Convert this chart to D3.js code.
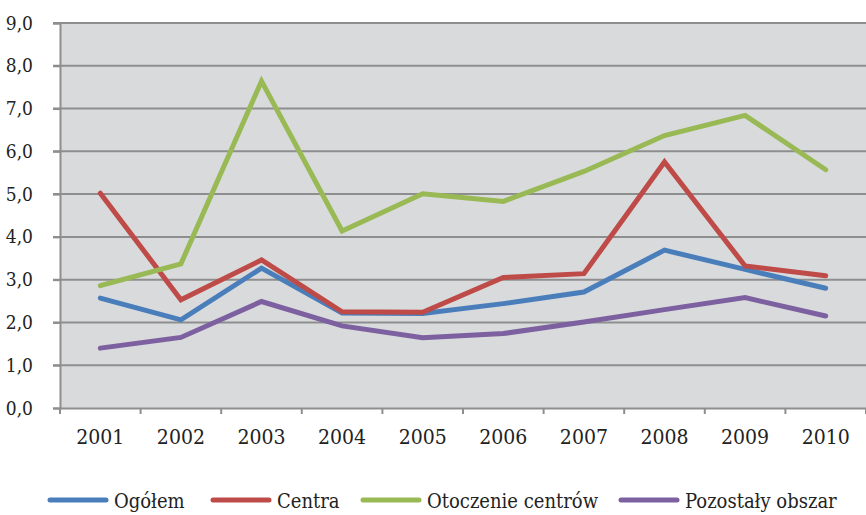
<!DOCTYPE html>
<html><head><meta charset="utf-8">
<script src="https://cdnjs.cloudflare.com/ajax/libs/d3/7.8.5/d3.min.js"></script>
<style>body{margin:0;background:#fff}svg{display:block}</style>
</head><body><svg id="c" width="866" height="515"></svg>
<script>
const years = ["2001","2002","2003","2004","2005","2006","2007","2008","2009","2010"];
const yTicks = [0,1,2,3,4,5,6,7,8,9];
const seriesNames = ["Ogółem","Centra","Otoczenie centrów","Pozostały obszar"];
const seriesColors = ["#4a7ebb","#be4b48","#98b954","#7d60a0"];
const ogolem = [2.57,2.06,3.27,2.22,2.21,2.44,2.71,3.69,3.24,2.80];
const centra = [5.02,2.53,3.46,2.25,2.24,3.05,3.14,5.75,3.32,3.09];
const otoczenie = [2.86,3.37,7.64,4.14,5.01,4.83,5.53,6.37,6.84,5.57];
const pozostaly = [1.40,1.65,2.49,1.92,1.64,1.74,2.01,2.30,2.58,2.15];
const seriesValues = [ogolem,centra,otoczenie,pozostaly];

const svg = d3.select("#c");
const L=60,R=866,T=23,B=408;
const x = d3.scaleBand().domain(years).range([L,R]);
const y = d3.scaleLinear().domain([0,9]).range([B,T]);
const FONT = "'DejaVu Serif Condensed','DejaVu Serif',serif";

svg.append("rect").attr("x",L).attr("y",T).attr("width",R-L).attr("height",B-T).attr("fill","#d9dadc");
svg.append("g").selectAll("line").data(yTicks.filter(d=>d>0)).join("line")
  .attr("x1",L-7).attr("x2",R).attr("y1",d=>y(d)).attr("y2",d=>y(d))
  .attr("stroke","#8e8e8e").attr("stroke-width",2);
const ya = svg.append("g").attr("transform",`translate(${L},0)`)
  .call(d3.axisLeft(y).tickValues(yTicks).tickSize(7).tickPadding(20).tickFormat(d=>d3.format(".1f")(d).replace(".",",")));
ya.attr("font-family",FONT).attr("font-size",19).attr("font-stretch","condensed");
ya.select(".domain").attr("stroke","#8e8e8e").attr("stroke-width",2);
ya.selectAll(".tick line").attr("stroke","#8e8e8e").attr("stroke-width",2);
ya.selectAll("text").attr("fill","#222");
const xa = svg.append("g").attr("transform",`translate(0,${B})`)
  .call(d3.axisBottom(x).tickSize(0).tickPadding(21));
xa.attr("font-family",FONT).attr("font-size",21).attr("font-stretch","condensed");
xa.select(".domain").attr("stroke","#8e8e8e").attr("stroke-width",2);
xa.selectAll("text").attr("fill","#222");
svg.append("g").selectAll("line").data(years.concat(["end"])).join("line")
  .attr("x1",(d,i)=>L+i*x.bandwidth()).attr("x2",(d,i)=>L+i*x.bandwidth())
  .attr("y1",B).attr("y2",B+6).attr("stroke","#8e8e8e").attr("stroke-width",2);

const line = d3.line().x((d,i)=>x(years[i])+x.bandwidth()/2).y(d=>y(d));
svg.append("g").selectAll("path").data(seriesValues).join("path")
  .attr("d",d=>line(d)).attr("fill","none")
  .attr("stroke",(d,i)=>seriesColors[i]).attr("stroke-width",5)
  .attr("stroke-linejoin","miter").attr("stroke-linecap","round");

const legX = [50,213,363,621];
const lg = svg.append("g").selectAll("g").data(seriesNames).join("g")
  .attr("transform",(d,i)=>`translate(${legX[i]},500)`);
lg.append("line").attr("x1",0).attr("x2",56).attr("stroke",(d,i)=>seriesColors[i]).attr("stroke-width",5).attr("stroke-linecap","round");
lg.append("text").attr("x",64).attr("y",8).attr("font-family",FONT).attr("font-stretch","condensed").attr("font-size",20).attr("fill","#222").text(d=>d);
</script></body></html>
